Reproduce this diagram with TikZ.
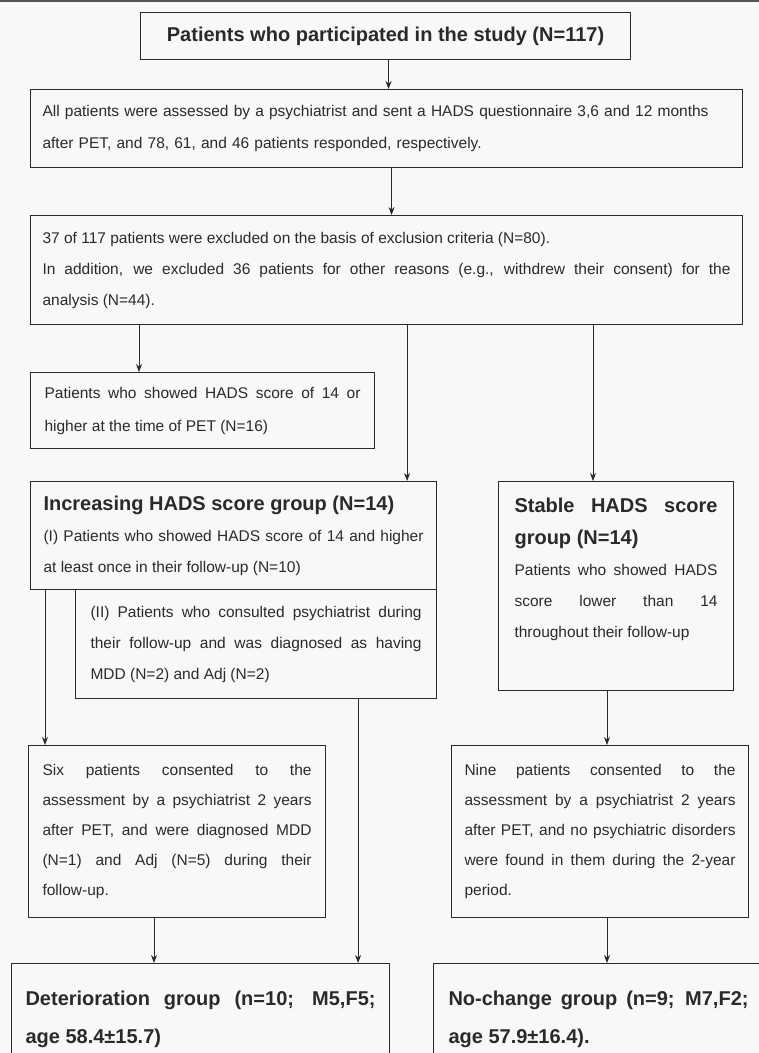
\documentclass[tikz,border=0pt]{standalone}
\usepackage{fontspec}
\setmainfont{Liberation Sans}
\usetikzlibrary{arrows.meta}
\definecolor{ink}{HTML}{2A2A2A}
\definecolor{paper}{HTML}{F8F8F6}
\begin{document}
\begin{tikzpicture}[x=1pt,y=-1pt,
  box/.style={draw=ink,line width=1.1pt,anchor=north west,inner ysep=0pt,text=ink,align=justify,
    execute at begin node={\parindent=0pt\hyphenpenalty=10000\exhyphenpenalty=10000\tolerance=10000}},
  body/.style={font=\fontsize{15.5}{31}\selectfont},
  ttl/.style={font=\bfseries\fontsize{20}{24}\selectfont},
  arr/.style={draw=ink,line width=0.9pt,-{Stealth[length=8pt,width=6pt]}},
  ln/.style={draw=ink,line width=0.9pt}
]
\useasboundingbox (0,0) rectangle (759,1053);
\clip (0,0) rectangle (759,1053);
\fill[paper] (0,0) rectangle (759,1053);
\draw[ink!80,line width=1.5pt] (0,1) -- (759,1);

\node[box,ttl,align=center,minimum width=490pt,minimum height=47pt] (b1) at (140,12)
  {Patients who participated in the study (N=117)};

\node[box,font=\fontsize{15.5}{32}\selectfont,align=left,text width=688pt,inner xsep=12pt,minimum height=78pt] (b2) at (30,89)
  {All patients were assessed by a psychiatrist and sent a HADS questionnaire 3,6 and 12 months\\after PET, and 78, 61, and 46 patients responded, respectively.};

\node[box,body,text width=688pt,inner xsep=12pt,minimum height=109pt] (b3) at (30,215)
  {37 of 117 patients were excluded on the basis of exclusion criteria (N=80).\par
   In addition, we excluded 36 patients for other reasons (e.g., withdrew their consent) for the\linebreak analysis (N=44).};

\node[box,font=\fontsize{15.5}{33}\selectfont,text width=316pt,minimum width=344pt,minimum height=76pt] (b4) at (30,372)
  {Patients who showed HADS score of 14 or\linebreak higher at the time of PET (N=16)};

\node[box,body,text width=380pt,inner xsep=13pt,minimum height=108pt] (inc) at (30,481)
  {{\bfseries\fontsize{20}{24}\selectfont Increasing HADS score group (N=14)\par}
   (I) Patients who showed HADS score of 14 and higher\linebreak at least once in their follow-up (N=10)};

\node[box,body,text width=331pt,inner xsep=15pt,minimum height=109pt] (sub) at (75,589)
  {(II) Patients who consulted psychiatrist during\linebreak their follow-up and was diagnosed as having\linebreak MDD (N=2) and Adj (N=2)};

\node[box,inner xsep=16pt,inner ysep=16pt] (stable) at (498,481)
  {\begin{minipage}[c][177pt][t]{203pt}\parindent=0pt\hyphenpenalty=10000\exhyphenpenalty=10000\tolerance=10000
   {\bfseries\fontsize{20}{32}\selectfont Stable HADS score\linebreak group (N=14)\par}
   \fontsize{15.5}{31}\selectfont Patients who showed HADS\linebreak score lower than 14\linebreak throughout their follow-up\par
   \end{minipage}};

\node[box,font=\fontsize{15.5}{30}\selectfont,text width=269pt,inner xsep=14pt,minimum height=172pt] (six) at (28,745)
  {Six patients consented to the\linebreak assessment by a psychiatrist 2 years\linebreak after PET, and were diagnosed MDD\linebreak (N=1) and Adj (N=5) during their\linebreak follow-up.};

\node[box,font=\fontsize{15.5}{30}\selectfont,text width=271pt,inner xsep=13pt,minimum height=172pt] (nine) at (451,745)
  {Nine patients consented to the\linebreak assessment by a psychiatrist 2 years\linebreak after PET, and no psychiatric disorders\linebreak were found in them during the 2-year\linebreak period.};

\node[box,font=\bfseries\fontsize{20}{38}\selectfont,text width=350pt,inner xsep=14pt,minimum height=112pt] (det) at (11,963)
  {Deterioration group (n=10; M5,F5;\linebreak age 58.4±15.7)};

\node[box,font=\bfseries\fontsize{20}{38}\selectfont,text width=300pt,inner xsep=15pt,minimum height=112pt] (noch) at (433,963)
  {No-change group (n=9; M7,F2;\linebreak age 57.9±16.4).};

% connectors
\draw[arr] ([xshift=3pt]b1.south) -- ([xshift=3pt]b1.south |- b2.north);
\draw[arr] ([xshift=5pt]b2.south) -- ([xshift=5pt]b2.south |- b3.north);
\draw[arr] ([xshift=109pt]b3.south west) -- ([xshift=109pt]b4.north west);
\draw[arr] ([xshift=-30pt]inc.north east |- b3.south) -- ([xshift=-30pt]inc.north east);
\draw[arr] ([xshift=95pt]stable.north west |- b3.south) -- ([xshift=95pt]stable.north west);
\draw[arr] ([xshift=15pt]inc.south west) -- ([xshift=15pt]inc.south west |- six.north);
\draw[arr] ([xshift=-79pt]sub.south east) -- ([xshift=-79pt]sub.south east |- det.north);
\draw[arr] ([xshift=109pt]stable.south west) -- ([xshift=109pt]stable.south west |- nine.north);
\draw[arr] ([xshift=126pt]six.south west) -- ([xshift=126pt]six.south west |- det.north);
\draw[arr] ([xshift=156pt]nine.south west) -- ([xshift=156pt]nine.south west |- noch.north);
\end{tikzpicture}
\end{document}
